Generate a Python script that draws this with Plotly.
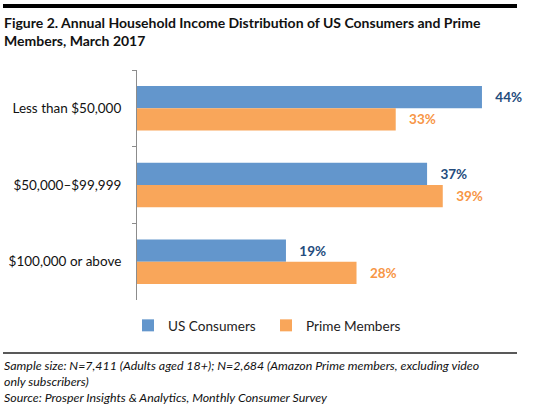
import plotly.graph_objects as go

categories = ["Less than $50,000", "$50,000–$99,999", "$100,000 or above"]
us_consumers = [44, 37, 19]
prime_members = [33, 39, 28]
series_names = ["US Consumers", "Prime Members"]

FONT = "Lato"
W, H = 550, 420
L, R, T, B = 137, 21, 70, 120

fig = go.Figure()
fig.add_trace(go.Bar(
    y=categories, x=us_consumers, orientation="h", name=series_names[0],
    marker=dict(color="#6396CC", line=dict(width=0)),
    text=[f"{v}%" for v in us_consumers], textposition="outside",
    texttemplate="   <b>%{text}</b>",
    textfont=dict(family=FONT, size=13.5, color="#244C7D"),
    cliponaxis=False,
))
fig.add_trace(go.Bar(
    y=categories, x=prime_members, orientation="h", name=series_names[1],
    marker=dict(color="#F9A65A", line=dict(width=0)),
    text=[f"{v}%" for v in prime_members], textposition="outside",
    texttemplate="   <b>%{text}</b>",
    textfont=dict(family=FONT, size=13.5, color="#F79646"),
    cliponaxis=False,
))

def px_x(x):
    return (x - L) / (W - L - R)

def px_y(y):
    return (H - B - y) / (H - T - B)

fig.update_layout(
    width=W, height=H,
    margin=dict(l=L, r=R, t=T, b=B, autoexpand=False),
    paper_bgcolor="white", plot_bgcolor="white",
    barmode="group", bargap=0.42, bargroupgap=0,
    font=dict(family=FONT, size=14, color="#222222"),
    showlegend=True,
    legend=dict(orientation="h", x=px_x(128), xanchor="left", y=px_y(310), yanchor="top",
                font=dict(family=FONT, size=13.6, color="#222222"),
                itemwidth=30, traceorder="normal", entrywidth=93),
    xaxis=dict(range=[0, 50], visible=False, showgrid=False, zeroline=False, fixedrange=True),
    yaxis=dict(autorange="reversed", showline=True, linecolor="#8C8C8C", linewidth=1,
               ticks="outside", ticklen=4, tickcolor="#8C8C8C", tickson="boundaries",
               showgrid=False, tickfont=dict(family=FONT, size=13.5, color="#111111"),
               ticklabelstandoff=12, fixedrange=True),
)

# Title
fig.add_annotation(xref="paper", yref="paper", x=px_x(2), y=px_y(12),
                   xanchor="left", yanchor="top", align="left", showarrow=False,
                   text="<b>Figure 2. Annual Household Income Distribution of US Consumers and Prime<br>Members, March 2017</b>",
                   font=dict(family=FONT, size=14, color="#111111"))

# Footnote
fig.add_annotation(xref="paper", yref="paper", x=px_x(2), y=px_y(356),
                   xanchor="left", yanchor="top", align="left", showarrow=False,
                   text="<i>Sample size: N=7,411 (Adults aged 18+); N=2,684 (Amazon Prime members, excluding video<br>only subscribers)<br>Source: Prosper Insights &amp; Analytics, Monthly Consumer Survey</i>",
                   font=dict(family=FONT, size=12.4, color="#111111"))

# Top and bottom rules
fig.add_shape(type="line", xref="paper", yref="paper", x0=px_x(3), x1=px_x(517), y0=px_y(6), y1=px_y(6),
              line=dict(color="#000000", width=4))
fig.add_shape(type="line", xref="paper", yref="paper", x0=px_x(3), x1=px_x(517), y0=px_y(353), y1=px_y(353),
              line=dict(color="#222222", width=1.5))

fig.write_html("out.html", config={"displayModeBar": False},
               post_script="document.body.style.margin='0';")
